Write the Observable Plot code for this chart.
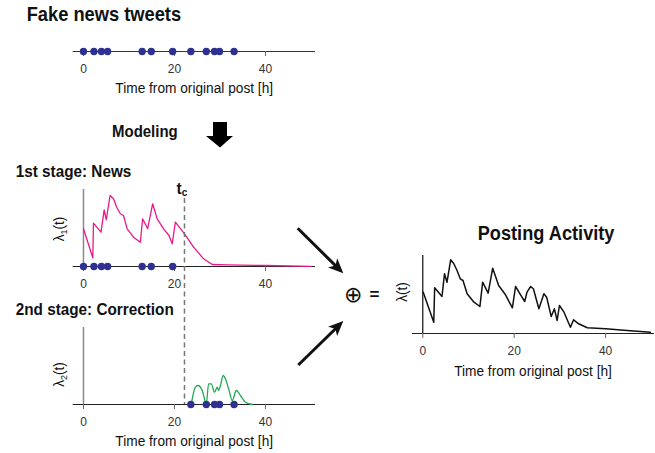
<!DOCTYPE html>
<html><head><meta charset="utf-8">
<script src="https://cdn.jsdelivr.net/npm/d3@7"></script>
<script src="https://cdn.jsdelivr.net/npm/@observablehq/plot@0.6"></script>
<style>
body{margin:0;background:#fff;}
#page{position:relative;width:655px;height:453px;overflow:hidden;font-family:"Liberation Sans",Arial,Helvetica,sans-serif;}
.panel{position:absolute;left:0;width:655px;}
.panel svg{background:transparent !important;overflow:visible;max-width:none !important;}
#overlay{position:absolute;left:0;top:0;overflow:visible;}
#overlay text{font-family:"Liberation Sans",Arial,Helvetica,sans-serif;fill:#111;}
</style></head><body><div id="page">
<div class="panel" id="pTop" style="top:30px"></div>
<div class="panel" id="pNews" style="top:180px"></div>
<div class="panel" id="pCorr" style="top:318px"></div>
<div class="panel" id="pTotal" style="top:246px"></div>
<div class="panel" id="pTc" style="top:190px"></div>
<svg id="overlay" width="655" height="453">
  <text transform="translate(26.7,21) scale(1,1.12)" font-size="18.3" font-weight="bold">Fake news tweets</text>
  <text transform="translate(194.2,93.3) scale(1,1.12)" font-size="13.7" text-anchor="middle">Time from original post [h]</text>
  <text transform="translate(112,137.3) scale(1,1.12)" font-size="15" font-weight="bold">Modeling</text>
  <polygon points="213,122 227,122 227,136 233,136 220,147.5 206,136 213,136" fill="#000"/>
  <text transform="translate(15.7,176.7) scale(1,1.12)" font-size="15.3" font-weight="bold">1st stage: News</text>
  <text transform="translate(176.5,193.5) scale(1,1.12)" font-size="15.5" font-weight="bold">t<tspan font-size="10" dy="2">c</tspan></text>
  <text transform="translate(64,229) rotate(-90) scale(1,1.1)" font-size="13.5" text-anchor="middle">λ<tspan font-size="9" dy="3">1</tspan><tspan dy="-3">(t)</tspan></text>
  <text transform="translate(15.7,315) scale(1,1.12)" font-size="15.3" font-weight="bold">2nd stage: Correction</text>
  <text transform="translate(64,374.5) rotate(-90) scale(1,1.1)" font-size="13.5" text-anchor="middle">λ<tspan font-size="9" dy="3">2</tspan><tspan dy="-3">(t)</tspan></text>
  <text transform="translate(194.2,445.7) scale(1,1.12)" font-size="13.7" text-anchor="middle">Time from original post [h]</text>
  <text transform="translate(477.7,240) scale(1,1.12)" font-size="18.2" font-weight="bold">Posting Activity</text>
  <text transform="translate(407,292) rotate(-90) scale(1,1.1)" font-size="13.5" text-anchor="middle">λ(t)</text>
  <text transform="translate(533,375.7) scale(1,1.12)" font-size="13.7" text-anchor="middle">Time from original post [h]</text>
  <line x1="297.7" y1="228.3" x2="336.5" y2="266.6" stroke="#111" stroke-width="3"/>
  <polygon points="343.3,273.3 337.2,258.2 335.5,265.6 328.0,267.4" fill="#111"/>
  <line x1="298.3" y1="365" x2="336" y2="328.2" stroke="#111" stroke-width="3"/>
  <polygon points="343.3,321 337.1,336.1 335.4,328.7 328.1,326.8" fill="#111"/>
  <text x="353.3" y="294.3" font-size="22" text-anchor="middle" dominant-baseline="central" style="font-family:'DejaVu Sans'">⊕</text>
  <text x="374.5" y="294.3" font-size="17" font-weight="bold" text-anchor="middle" dominant-baseline="central">=</text>
</svg>
</div>
<script>
// ---- data ----
const tweetTimes = [0, 2.3, 3.95, 5.3, 12.9, 14.9, 19.6, 23.6, 27.0, 28.8, 29.9, 33.1];
const newsTimes = [0, 2.3, 3.95, 5.3, 12.9, 14.9, 19.6];
const correctionTimes = [23.6, 27.0, 28.8, 29.9, 33.1];
const tc = 22.2;
const xTicks = [0, 20, 40];

const lambda1T = [0, 2.05, 2.2, 3.85, 4.55, 5.0, 5.85, 6.6, 7.3, 8.1, 8.8, 9.6, 11.0, 12.5, 13.0, 14.1, 15.2, 16.2, 17.6, 18.8, 19.5, 20.2, 22.2, 24.2, 26.4, 28.3, 31.6, 40, 50];
const lambda1V = [37.7, 8.7, 43.3, 34.3, 56.7, 46.7, 71, 67.7, 59.3, 52.7, 51, 37.7, 29.3, 24.3, 47.7, 37.7, 62.7, 47.7, 37.7, 31, 22.7, 44.3, 32.7, 19.3, 7.7, 2, 1.7, 1, 0.2];

const lambda2T = [23.7, 24.6, 25.2, 26.1, 27.0, 27.5, 28.1, 28.8, 29.4, 29.7, 30.1, 30.7, 31.2, 31.9, 32.7, 33.6, 34.5, 35.6, 37.1];
const lambda2V = [0.7, 17.3, 19, 14, 0.7, 20.7, 20.7, 12.3, 17.3, 14, 19, 29, 25.7, 15.7, 4, 14, 9, 2.3, 0];

const lambdaT = [0.1, 2.4, 2.6, 4.2, 4.75, 5.3, 6.1, 6.8, 7.5, 8.2, 8.8, 9.7, 11.2, 12.5, 13.1, 14.3, 15.3, 16.6, 18.1, 19.6, 20.3, 21.4, 22.3, 22.8, 23.6, 24.2, 25.4, 26.5, 27.1, 28.1, 28.8, 29.4, 29.9, 30.9, 32.3, 33.0, 34.1, 36.0, 40.0, 44.7, 49.8];
const lambdaV = [41.3, 11.3, 45.7, 37, 59.7, 51.3, 73.7, 69.7, 63, 54.7, 53, 39.7, 31.3, 27, 51.3, 40.3, 65.3, 48, 38.7, 25.7, 47, 38.7, 32, 41.3, 47, 44.7, 24.7, 39.7, 36.3, 17, 24.7, 13, 28, 21.3, 6.3, 13.7, 9.7, 5.7, 4.7, 3, 1.3];

// ---- build tables ----
const zip = (T, V) => T.map((t, i) => ({t, v: V[i]}));
const lambda1 = zip(lambda1T, lambda1V);
const lambda2 = zip(lambda2T, lambda2V);
const lambdaSum = zip(lambdaT, lambdaV);

const NAVY = "#2e3192", PINK = "#e8198b", GREEN = "#1faa52";
const FONT = "'Liberation Sans', Arial, Helvetica, sans-serif";

const leftFrame = {width: 655, marginLeft: 72.7, marginRight: 340};
const leftX = {domain: [-2.26, 51]};
const rightFrame = {width: 655, marginLeft: 412, marginRight: 1};
const rightX = {domain: [-2.25, 50.7]};

function axis() {
  return Plot.axisX({ticks: xTicks, tickSize: 5, tickPadding: 8, fontSize: 12, stroke: "#666", fill: "#333", label: null, tickFormat: d => d});
}
function dots(times) {
  return Plot.dot(times, {x: d => d, y: 0, r: 3.7, fill: NAVY, stroke: "none"});
}
function mount(id, opts) {
  const p = Plot.plot({...opts, style: {background: "transparent", fontFamily: FONT, overflow: "visible"}});
  document.getElementById(id).append(p);
}

// top: raw tweets
mount("pTop", {...leftFrame, x: leftX, height: 50, marginTop: 5, marginBottom: 29,
  y: {domain: [0, 1], axis: null},
  marks: [Plot.ruleY([0], {stroke: "#333"}), axis(), dots(tweetTimes)]});

// first stage
mount("pNews", {...leftFrame, x: leftX, height: 110, marginTop: 9, marginBottom: 24,
  y: {domain: [0, 77], axis: null},
  marks: [
    Plot.ruleX([0], {stroke: "#8a8a8a", strokeWidth: 1.5}),
    Plot.ruleY([0], {stroke: "#222"}),
    Plot.line(lambda1, {x: "t", y: "v", stroke: PINK, strokeWidth: 1.3}),
    axis(), dots(newsTimes)]});

// second stage
mount("pCorr", {...leftFrame, x: leftX, height: 110, marginTop: 9, marginBottom: 24,
  y: {domain: [0, 77], axis: null},
  marks: [
    Plot.ruleX([0], {stroke: "#8a8a8a", strokeWidth: 1.5}),
    Plot.ruleY([0], {stroke: "#222"}),
    Plot.line(lambda2, {x: "t", y: "v", stroke: GREEN, strokeWidth: 1.3, curve: "monotone-x"}),
    axis(), dots(correctionTimes)]});

// total activity
mount("pTotal", {...rightFrame, x: rightX, height: 111, marginTop: 9, marginBottom: 24,
  y: {domain: [0, 78], axis: null},
  marks: [
    Plot.ruleX([0], {stroke: "#111", strokeWidth: 1.2}),
    Plot.ruleY([0], {stroke: "#222"}),
    Plot.line(lambdaSum, {x: "t", y: "v", stroke: "#111", strokeWidth: 1.5}),
    axis()]});

// change point t_c (dashed line spanning both stages)
mount("pTc", {...leftFrame, x: {...leftX, axis: null}, height: 220, marginTop: 8, marginBottom: 6,
  y: {domain: [0, 1], axis: null},
  marks: [Plot.ruleX([tc], {stroke: "#777", strokeWidth: 1.5, strokeDasharray: "5,3.5"})]});
</script>
</body></html>
